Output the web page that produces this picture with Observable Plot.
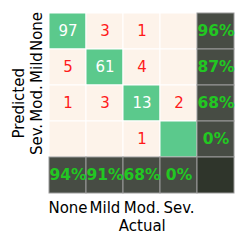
<!DOCTYPE html>
<html>
<head>
<meta charset="utf-8">
<script src="https://cdn.jsdelivr.net/npm/d3@7"></script>
<script src="https://cdn.jsdelivr.net/npm/@observablehq/plot@0.6"></script>
<style>
html, body { margin: 0; padding: 0; background: #fff; }
</style>
</head>
<body>
<div id="chart"></div>
<script>
const labels = ["None", "Mild", "Mod.", "Sev."];
const summaryKey = "Σ";
// rows = predicted, columns = actual
const countsNone = [97, 3, 1, 0];
const countsMild = [5, 61, 4, 0];
const countsMod = [1, 3, 13, 2];
const countsSev = [0, 0, 1, 0];
const rowPercent = ["96%", "87%", "68%", "0%"];   // per predicted row
const colPercent = ["94%", "91%", "68%", "0%"];   // per actual column

const matrix = [countsNone, countsMild, countsMod, countsSev];
const domain = [...labels, summaryKey];

const cells = [];
matrix.forEach((row, i) => row.forEach((v, j) => {
  cells.push({pred: labels[i], act: labels[j], kind: i === j ? "diag" : "off", text: v === 0 ? "" : String(v)});
}));
labels.forEach((l, i) => cells.push({pred: l, act: summaryKey, kind: "sum", text: rowPercent[i]}));
labels.forEach((l, j) => cells.push({pred: summaryKey, act: l, kind: "sum", text: colPercent[j]}));
cells.push({pred: summaryKey, act: summaryKey, kind: "corner", text: ""});

const fills = {diag: "#5bc98c", off: "#fdf3ea", sum: "#474c44", corner: "#2f352b"};
const strokes = {diag: "#ffffff", off: "#ffffff", sum: "#9a9a9a", corner: "#9a9a9a"};
const textFills = {diag: "#ffffff", off: "#ff1a1a", sum: "#22c722", corner: "#22c722"};

const regular = cells.filter(d => d.kind === "diag" || d.kind === "off");
const summary = cells.filter(d => d.kind === "sum" || d.kind === "corner");

const chart = Plot.plot({
  width: 244,
  height: 244,
  marginLeft: 49,
  marginRight: 9.5,
  marginTop: 11,
  marginBottom: 49.5,
  style: {fontFamily: "DejaVu Sans", fontSize: "15px", background: "#fff"},
  x: {domain, padding: 0, axis: null},
  y: {domain, padding: 0, axis: null},
  color: {type: "identity"},
  marks: [
    Plot.cell(regular, {x: "act", y: "pred", fill: d => fills[d.kind], stroke: d => strokes[d.kind], strokeWidth: 1}),
    Plot.cell(summary, {x: "act", y: "pred", fill: d => fills[d.kind], stroke: d => strokes[d.kind], strokeWidth: 1}),
    Plot.text(regular, {x: "act", y: "pred", text: "text", fill: d => textFills[d.kind], fontSize: 15}),
    Plot.text(summary, {x: "act", y: "pred", text: "text", fill: d => textFills[d.kind], fontSize: 15.5, fontWeight: "bold"}),
    Plot.axisX(labels, {anchor: "bottom", tickSize: 0, tickPadding: 7, fontSize: 15, fill: "#000", label: null}),
    Plot.axisY(labels, {anchor: "left", tickSize: 0, tickPadding: 12, rotate: -90, textAnchor: "middle", lineAnchor: "middle", fontSize: 15, fill: "#000", label: null}),
    Plot.text(["Actual"], {frameAnchor: "bottom", lineAnchor: "bottom", dy: 35.5, fontSize: 15, fill: "#000"}),
    Plot.text(["Predicted"], {frameAnchor: "left", rotate: -90, textAnchor: "middle", lineAnchor: "middle", dx: -30, fontSize: 15, fill: "#000"})
  ]
});
document.getElementById("chart").appendChild(chart);
</script>
</body>
</html>
